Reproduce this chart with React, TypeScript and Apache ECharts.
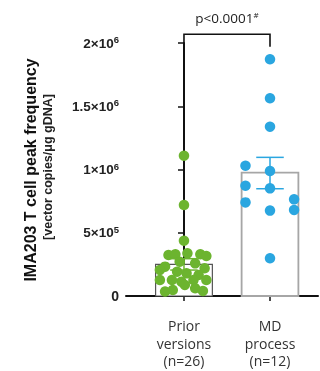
import React, { useEffect, useRef } from 'react';
import * as echarts from 'echarts';

const categories = ['Prior\nversions\n(n=26)', 'MD\nprocess\n(n=12)'];
const yTickValues = [0, 500000, 1000000, 1500000, 2000000];
const yTickBases = ['0', '5×10', '1×10', '1.5×10', '2×10'];
const yTickExps = ['', '5', '6', '6', '6'];
const barMeans = [250000, 975000];
const errLow = [205000, 848000];
const errHigh = [295000, 1096000];

const priorValues = [
  1109000, 719000, 437000, 324000, 330000, 337000, 330000, 316000, 271000,
  232000, 258000, 219000, 206000, 192000, 179000, 166000, 126000, 126000,
  113000, 126000, 126000, 47000, 87000, 61000, 35000, 40000,
];
const priorOffsets = [
  0, 0, 0, -0.18, -0.1, 0.04, 0.19, 0.26, -0.05, -0.22, 0.13, 0.24, -0.28,
  -0.08, 0.03, 0.17, -0.28, -0.14, -0.03, 0.11, 0.26, -0.13, 0.01, 0.13, -0.22, 0.22,
];
const mdValues = [
  1871000, 1563000, 1338000, 1030000, 988000, 872000, 851000, 740000, 764000,
  680000, 675000, 298000,
];
const mdOffsets = [0, 0, 0, -0.285, 0, -0.285, 0, -0.285, 0.28, 0.28, 0, 0];

const pText = 'p<0.0001';
const pMark = '#';
const bracketTop = 2069000;
const bracketLeftEnd = 1207000;
const bracketRightEnd = 1971000;
const pTextValue = 2200000;

const GREEN = '#6cb42f';
const BLUE = '#2aa6e0';
const barEdge = ['#555555', '#a6a6a6'];
const dotColors = [GREEN, BLUE];

export default function App() {
  const ref = useRef<HTMLDivElement>(null);
  useEffect(() => {
    const chart = echarts.init(ref.current!, null, { renderer: 'svg' });
    const barHalf = 0.33;
    const capHalf = 0.16;
    chart.setOption({
      animation: false,
      grid: { left: 126, top: 43, width: 192, height: 253 },
      xAxis: {
        type: 'value',
        min: -0.674,
        max: 1.558,
        splitLine: { show: false },
        axisLine: { show: true, lineStyle: { color: '#111', width: 2 } },
        axisTick: { show: true, customValues: [0, 1], length: 5, lineStyle: { color: '#111', width: 1.5 } },
        axisLabel: {
          customValues: [0, 1],
          formatter: (v: number) => categories[Math.round(v)],
          margin: 21,
          fontFamily: 'Open Sans',
          fontSize: 14,
          lineHeight: 17.5,
          color: '#333',
        },
      },
      yAxis: {
        type: 'value',
        min: 0,
        max: 2000000,
        interval: 500000,
        splitLine: { show: false },
        axisLine: { show: true, lineStyle: { color: '#111', width: 2 } },
        axisTick: { show: true, length: 6, lineStyle: { color: '#111', width: 1.5 } },
        axisLabel: {
          formatter: (v: number) => {
            const i = yTickValues.indexOf(v);
            if (i < 0) return '';
            if (!yTickExps[i]) return '{z|' + yTickBases[i] + '}';
            return '{b|' + yTickBases[i] + '}{s|' + yTickExps[i] + '}';
          },
          margin: 7,
          rich: {
            z: { fontFamily: 'Liberation Sans', fontWeight: 'bold', fontSize: 14, color: '#222' },
            b: { fontFamily: 'Liberation Sans', fontWeight: 'bold', fontSize: 13.5, color: '#222' },
            s: {
              fontFamily: 'Liberation Sans',
              fontWeight: 'bold',
              fontSize: 9.5,
              color: '#222',
              padding: [0, 0, 7, 0],
            },
          },
        },
      },
      graphic: [
        {
          type: 'text',
          x: 30,
          y: 170,
          rotation: Math.PI / 2,
          style: {
            text: 'IMA203 T cell peak frequency',
            fontFamily: 'Liberation Sans',
            fontWeight: 'bold',
            fontSize: 16,
            fill: '#111',
            align: 'center',
            verticalAlign: 'middle',
          },
        },
        {
          type: 'text',
          x: 48,
          y: 167,
          rotation: Math.PI / 2,
          style: {
            text: '[vector copies/μg gDNA]',
            fontFamily: 'Liberation Sans',
            fontWeight: 'bold',
            fontSize: 12.5,
            fill: '#222',
            align: 'center',
            verticalAlign: 'middle',
          },
        },
      ],
      series: [
        {
          type: 'custom',
          z: 1,
          data: barMeans.map((m, i) => [i, m]),
          renderItem: (params: any, api: any) => {
            const i = api.value(0);
            const m = api.value(1);
            const p1 = api.coord([i - barHalf, m]);
            const p2 = api.coord([i + barHalf, 0]);
            return {
              type: 'rect',
              shape: { x: p1[0], y: p1[1], width: p2[0] - p1[0], height: p2[1] - p1[1] },
              style: { fill: '#fff', stroke: barEdge[i], lineWidth: i === 0 ? 1.2 : 1.8 },
            };
          },
        },
        {
          type: 'scatter',
          z: 3,
          symbolSize: 10.5,
          itemStyle: { color: GREEN, opacity: 1 },
          data: priorValues.map((v, k) => [0 + priorOffsets[k], v]),
        },
        {
          type: 'scatter',
          z: 3,
          symbolSize: 10.5,
          itemStyle: { color: BLUE, opacity: 1 },
          data: mdValues.map((v, k) => [1 + mdOffsets[k], v]),
        },
        {
          type: 'custom',
          z: 4,
          data: barMeans.map((m, i) => [i, errLow[i], errHigh[i]]),
          renderItem: (params: any, api: any) => {
            const i = api.value(0);
            const lo = api.value(1);
            const hi = api.value(2);
            const c = dotColors[i];
            const top = api.coord([i, hi]);
            const bot = api.coord([i, lo]);
            const tl = api.coord([i - capHalf, hi]);
            const tr = api.coord([i + capHalf, hi]);
            const bl = api.coord([i - capHalf, lo]);
            const br = api.coord([i + capHalf, lo]);
            const st = { stroke: c, lineWidth: 1.5 };
            return {
              type: 'group',
              children: [
                { type: 'line', shape: { x1: top[0], y1: top[1], x2: bot[0], y2: bot[1] }, style: st },
                { type: 'line', shape: { x1: tl[0], y1: tl[1], x2: tr[0], y2: tr[1] }, style: st },
                { type: 'line', shape: { x1: bl[0], y1: bl[1], x2: br[0], y2: br[1] }, style: st },
              ],
            };
          },
        },
        {
          type: 'custom',
          z: 5,
          clip: false,
          data: [[0, 1, bracketTop, bracketLeftEnd, bracketRightEnd, pTextValue]],
          renderItem: (params: any, api: any) => {
            const a = api.value(0);
            const b = api.value(1);
            const topV = api.value(2);
            const lE = api.value(3);
            const rE = api.value(4);
            const tV = api.value(5);
            const p1 = api.coord([a, lE]);
            const p2 = api.coord([a, topV]);
            const p3 = api.coord([b, topV]);
            const p4 = api.coord([b, rE]);
            const tp = api.coord([(a + b) / 2, tV]);
            return {
              type: 'group',
              children: [
                {
                  type: 'polyline',
                  shape: { points: [p1, p2, p3, p4] },
                  style: { stroke: '#111', lineWidth: 1.6, fill: 'none' },
                },
                {
                  type: 'text',
                  x: tp[0],
                  y: tp[1],
                  style: {
                    text: '{a|' + pText + '}{b|' + pMark + '}',
                    align: 'center',
                    verticalAlign: 'middle',
                    rich: {
                      a: { fontFamily: 'Open Sans', fontSize: 13.5, fill: '#222' },
                      b: { fontFamily: 'Open Sans', fontSize: 8, fill: '#222', padding: [0, 0, 6, 0] },
                    },
                  },
                },
              ],
            };
          },
        },
      ],
    });
    return () => chart.dispose();
  }, []);
  return (
    <div
      ref={ref}
      style={{ position: 'fixed', left: 0, top: 0, width: 320, height: 371 }}
    />
  );
}
